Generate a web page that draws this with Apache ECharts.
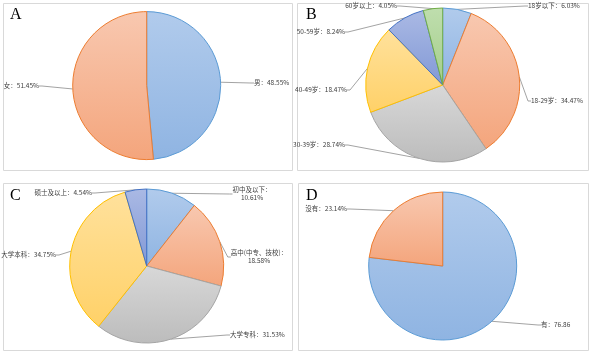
<!DOCTYPE html>
<html>
<head>
<meta charset="utf-8">
<script src="https://cdn.jsdelivr.net/npm/echarts@6/dist/echarts.min.js"></script>
<style>
  html, body { margin: 0; padding: 0; background: #fff; }
  #chart { width: 590px; height: 353px; }
</style>
</head>
<body>
<div id="chart"></div>
<script>
// A: gender
const genderNames = ['男', '女']
const genderValues = [48.55, 51.45]
// B: age groups
const ageNames = ['18岁以下', '18-29岁', '30-39岁', '40-49岁', '50-59岁', '60岁以上']
const ageValues = [6.03, 34.47, 28.74, 18.47, 8.24, 4.05]
// C: education
const eduNames = ['初中及以下', '高中(中专、技校)', '大学专科', '大学本科', '硕士及以上']
const eduValues = [10.61, 18.58, 31.53, 34.75, 4.54]
// D: yes / no
const hasNames = ['有', '没有']
const hasValues = [76.86, 23.14]
const hasSuffix = ['', '%']   // the "有" label has no percent sign in the original

// office-like palette: [light top, darker bottom, edge]
const palette = [
  ['#b1cbec', '#8fb4e2', '#5b9bd5'],
  ['#f8c8b0', '#f4a57c', '#ed7d31'],
  ['#d8d8d8', '#bcbcbc', '#a5a5a5'],
  ['#ffe19c', '#ffd168', '#ffc000'],
  ['#aab9e4', '#8299d6', '#4472c4'],
  ['#bfdeae', '#a4ce8a', '#70ad47']
]

// panel frames and label anchor spots (layout only)
const frames = [[3, 3, 289, 167], [297, 3, 291, 167], [3, 183, 289, 167], [298, 183, 290, 167]]
const labelSpots = {
  A: [[254, 83, 'left'], [39, 86, 'right']],
  B: [[528, 6, 'left'], [531, 101, 'left'], [345, 145, 'right'], [347, 90, 'right'], [345, 32, 'right'], [397, 6, 'right']],
  C: [[252, 194, 'center'], [259, 257, 'center'], [230, 335, 'left'], [56, 255, 'right'], [92, 193, 'right']],
  D: [[541, 325, 'left'], [347, 209, 'right']]
}
const wrapEdu = [true, true, false, false, false]

const makePie = (key, names, values, center, r, suffix, wrap) => ({
  type: 'pie',
  center: center,
  radius: [0, r],
  startAngle: 90,
  clockwise: true,
  silent: true,
  animation: false,
  data: names.map((n, i) => ({
    name: n,
    value: values[i],
    itemStyle: {
      color: new echarts.graphic.LinearGradient(0, 0, 0, 1, [
        { offset: 0, color: palette[i][0] },
        { offset: 1, color: palette[i][1] }
      ]),
      borderColor: palette[i][2],
      borderWidth: 1
    }
  })),
  label: {
    show: true,
    position: 'outside',
    alignTo: 'none',
    overflow: 'none',
    color: '#404040',
    fontSize: 6.5,
    lineHeight: 8,
    fontFamily: '"Noto Sans CJK SC", sans-serif',
    formatter: p => {
      const sep = wrap && wrap[p.dataIndex] ? '：\n' : '：'
      const suf = suffix ? suffix[p.dataIndex] : '%'
      return p.name + sep + p.value.toFixed(2) + suf
    }
  },
  labelLine: {
    show: true,
    length: 6,
    length2: 3,
    smooth: false,
    lineStyle: { color: '#8c8c8c', width: 0.8 }
  },
  labelLayout: params => {
    const s = labelSpots[key][params.dataIndex]
    return { x: s[0], y: s[1], align: s[2], verticalAlign: 'middle' }
  }
})

const chart = echarts.init(document.getElementById('chart'))

const letters = [['A', 10, 7], ['B', 306, 7], ['C', 10, 188], ['D', 306, 188]]

chart.setOption({
  backgroundColor: '#fff',
  title: letters.map(l => ({
    text: l[0],
    left: l[1],
    top: l[2],
    padding: 0,
    textStyle: { fontFamily: '"Liberation Serif", serif', fontSize: 16, fontWeight: 'normal', color: '#000' }
  })),
  graphic: frames.map(f => ({
    type: 'rect',
    silent: true,
    z: -1,
    shape: { x: f[0] + 0.5, y: f[1] + 0.5, width: f[2], height: f[3] },
    style: { fill: 'none', stroke: '#d9d9d9', lineWidth: 1 }
  })),
  series: [
    makePie('A', genderNames, genderValues, [146.7, 85.6], 74),
    makePie('B', ageNames, ageValues, [442.7, 85], 77),
    makePie('C', eduNames, eduValues, [146.7, 266], 77, null, wrapEdu),
    makePie('D', hasNames, hasValues, [442.7, 266], 74, hasSuffix)
  ]
})
</script>
</body>
</html>
